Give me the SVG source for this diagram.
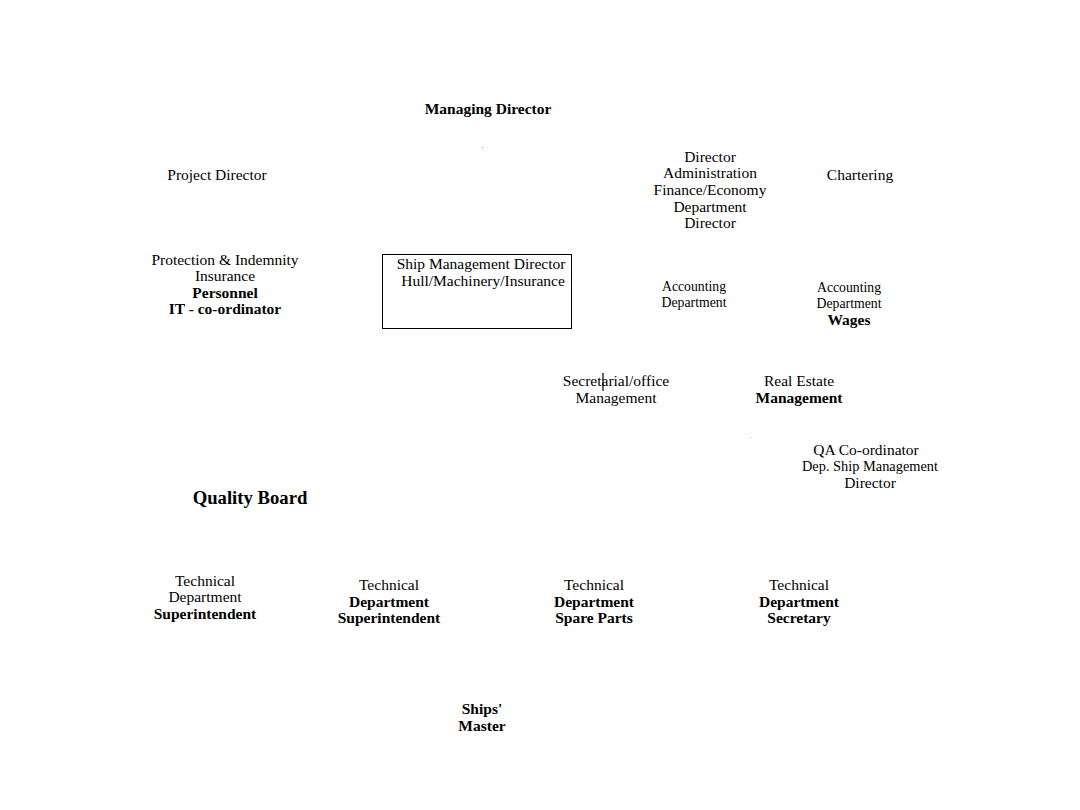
<svg xmlns="http://www.w3.org/2000/svg" width="1080" height="810" viewBox="0 0 1080 810">
<style>
text{font-family:"Liberation Serif","Times New Roman",serif;font-size:15.5px;fill:#000;text-anchor:middle}
.b{font-weight:bold}
.q{font-weight:bold;font-size:18.7px}
.box{fill:none;stroke:#000;stroke-width:1}
</style>
<rect width="1080" height="810" fill="#fff"/>
<g id="connectors">
<line x1="603" y1="373" x2="603" y2="391" stroke="#000" stroke-width="1.2"/>
<rect x="482" y="147" width="1" height="1" fill="#999"/>
<rect x="750" y="437" width="1" height="1" fill="#bbb"/>
</g>
<g id="managing-director"><text class="b" x="488" y="114">Managing Director</text></g>
<g id="project-director"><text x="217" y="180">Project Director</text></g>
<g id="director-admin">
<text x="710" y="162">Director</text>
<text x="710" y="178">Administration</text>
<text x="710" y="195">Finance/Economy</text>
<text x="710" y="212">Department</text>
<text x="710" y="228">Director</text>
</g>
<g id="chartering"><text x="860" y="180">Chartering</text></g>
<g id="protection">
<text x="225" y="265">Protection &amp; Indemnity</text>
<text x="225" y="281">Insurance</text>
<text class="b" x="225" y="298">Personnel</text>
<text class="b" x="225" y="314">IT - co-ordinator</text>
</g>
<g id="ship-management">
<rect class="box" x="382.5" y="254.5" width="189" height="74"/>
<text x="481" y="269">Ship Management Director</text>
<text x="483" y="286">Hull/Machinery/Insurance</text>
</g>
<g id="accounting1">
<text x="694" y="291" textLength="64" lengthAdjust="spacingAndGlyphs">Accounting</text>
<text x="694" y="307" textLength="65" lengthAdjust="spacingAndGlyphs">Department</text>
</g>
<g id="accounting2">
<text x="849" y="292" textLength="64" lengthAdjust="spacingAndGlyphs">Accounting</text>
<text x="849" y="308" textLength="65" lengthAdjust="spacingAndGlyphs">Department</text>
<text class="b" x="849" y="325">Wages</text>
</g>
<g id="secretarial">
<text x="616" y="386">Secretarial/office</text>
<text x="616" y="403">Management</text>
</g>
<g id="real-estate">
<text x="799" y="386">Real Estate</text>
<text class="b" x="799" y="403">Management</text>
</g>
<g id="qa">
<text x="866" y="455">QA Co-ordinator</text>
<text x="870" y="471" textLength="136" lengthAdjust="spacingAndGlyphs">Dep. Ship Management</text>
<text x="870" y="488">Director</text>
</g>
<g id="quality-board"><text class="q" x="250" y="504">Quality Board</text></g>
<g id="tech1">
<text x="205" y="586">Technical</text>
<text x="205" y="602">Department</text>
<text class="b" x="205" y="619">Superintendent</text>
</g>
<g id="tech2">
<text x="389" y="590">Technical</text>
<text class="b" x="389" y="607">Department</text>
<text class="b" x="389" y="623">Superintendent</text>
</g>
<g id="tech3">
<text x="594" y="590">Technical</text>
<text class="b" x="594" y="607">Department</text>
<text class="b" x="594" y="623">Spare Parts</text>
</g>
<g id="tech4">
<text x="799" y="590">Technical</text>
<text class="b" x="799" y="607">Department</text>
<text class="b" x="799" y="623">Secretary</text>
</g>
<g id="ships-master">
<text class="b" x="482" y="714">Ships'</text>
<text class="b" x="482" y="731">Master</text>
</g>
</svg>
